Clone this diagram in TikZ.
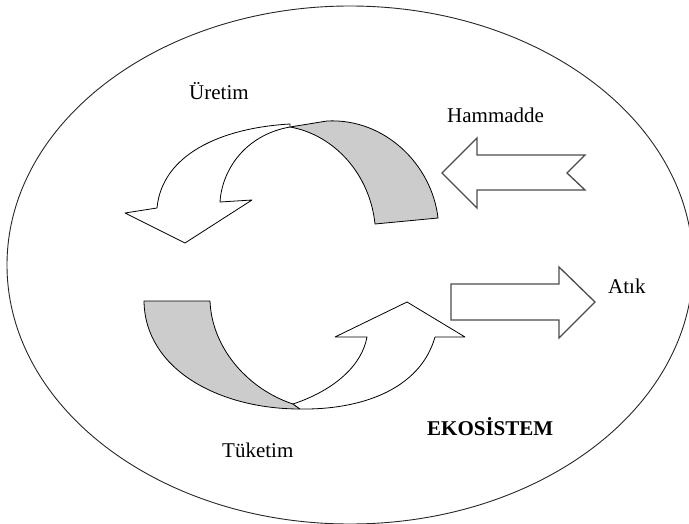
\documentclass[tikz,border=0pt]{standalone}
\usepackage{fontspec}
\setmainfont{Liberation Serif}
\begin{document}
\begin{tikzpicture}[x=1pt,y=-1pt,
  ribbon/.style={draw=black,line width=0.8pt,line join=round},
  backside/.style={ribbon,fill=black!20},
  frontside/.style={ribbon,fill=white},
  blockarrow/.style={draw=black!70,line width=1.3pt,fill=white,line join=miter},
  lbl/.style={anchor=base west,inner sep=0pt,font=\fontsize{21}{24}\selectfont}]
\useasboundingbox (0,0) rectangle (689,524);
\clip (0,0) rectangle (689,524);
% ecosystem boundary
\draw[line width=0.9pt,draw=black!85] (350,265) ellipse [x radius=343, y radius=259];

% production loop: shaded back face, then front arrow
\draw[backside] (290,127) -- (327,121)
  .. controls (385,118) and (432,165) .. (438,218)
  -- (375,224)
  .. controls (370,175) and (335,135) .. (290,127) -- cycle;
\draw[frontside] (290,127)
  .. controls (245,135) and (222,170) .. (220,202)
  -- (252,200) -- (185,243) -- (125,213) -- (157,208)
  .. controls (162,155) and (220,128) .. (290,124) -- cycle;

% consumption loop: shaded back face, then front arrow
\draw[backside] (144,301) -- (210,301)
  .. controls (212,350) and (250,390) .. (293,404)
  -- (300,409)
  .. controls (220,409) and (145,370) .. (144,301) -- cycle;
\draw[frontside] (293,404)
  .. controls (335,390) and (362,365) .. (367,337)
  -- (335,337) -- (407,302) -- (465,337) -- (435,337)
  .. controls (420,390) and (360,410) .. (300,409) -- cycle;

% raw material input and waste output
\draw[blockarrow] (442,173) -- (477,138) -- (477,155) -- (585,155)
  -- (567,173) -- (585,190) -- (477,190) -- (477,208) -- cycle;
\draw[blockarrow] (451,284) -- (559,284) -- (559,267) -- (595,302)
  -- (559,338) -- (559,320) -- (451,320) -- cycle;

% labels
\node[lbl] (uretim) at (189,100) {Üretim};
\node[lbl] (hammadde) at (447,123) {Hammadde};
\node[lbl] (atik) at (608,294) {Atık};
\node[lbl] (tuketim) at (222,457) {Tüketim};
\node[lbl,font=\fontsize{21}{24}\selectfont\bfseries] (ekosistem) at (427,435) {EKOSİSTEM};
\end{tikzpicture}
\end{document}
